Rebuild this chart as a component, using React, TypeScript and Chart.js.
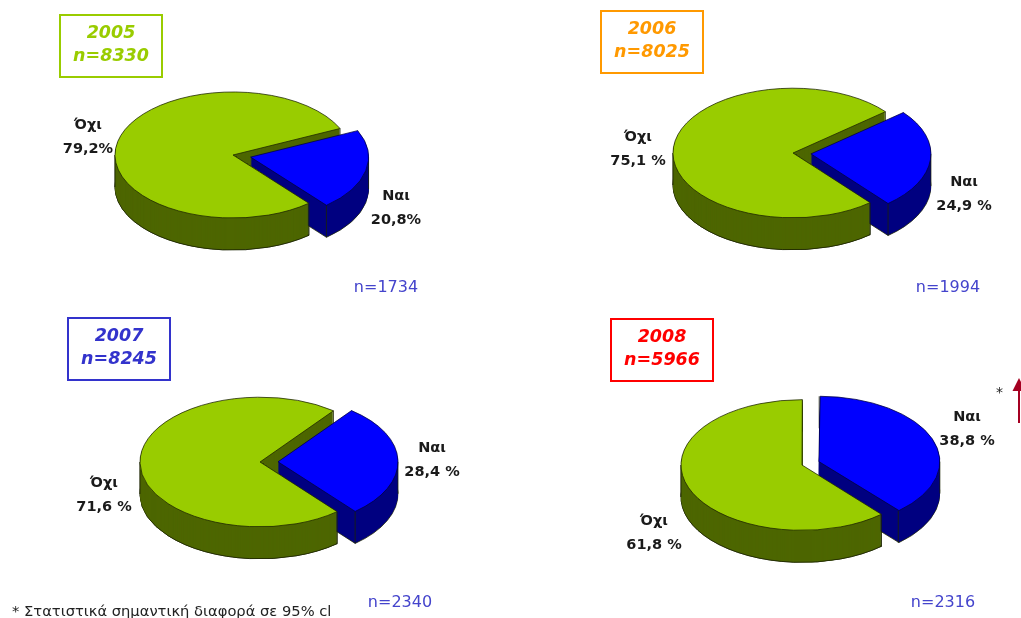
import React, { useEffect, useRef } from "react";
import { Chart, registerables } from "chart.js";

Chart.register(...registerables);

// Survey results per year
const years = ["2005", "2006", "2007", "2008"];
const sampleTotals = ["n=8330", "n=8025", "n=8245", "n=5966"];
const yesCounts = ["n=1734", "n=1994", "n=2340", "n=2316"];
const noValues = [79.2, 75.1, 71.6, 61.8];
const yesValues = [20.8, 24.9, 28.4, 38.8];
const noLabels = ["79,2%", "75,1 %", "71,6 %", "61,8 %"];
const yesLabels = ["20,8%", "24,9 %", "28,4 %", "38,8 %"];
const categories = ["Όχι", "Ναι"];
const footnote = "* Στατιστικά σημαντική διαφορά σε 95% cl";

// Page layout for each pie panel
const CANVAS = 300;
const centres = [[233, 155], [793, 153], [260, 462], [802, 465]];
const radii = [118, 120, 120, 121];
const rotations = [140, 140, 140, 139];
const tilt = [0.534, 0.54, 0.54, 0.54];
const DEPTH = 32;
const EXPLODE = 18;
const titleColours = ["#99CC00", "#FF9900", "#3333CC", "#FF0000"];
const titleBoxes = [[59, 14], [600, 10], [67, 317], [610, 318]];
const noPos = [[88, 124], [638, 136], [104, 482], [654, 520]];
const yesPos = [[396, 195], [964, 181], [432, 447], [967, 416]];
const countPos = [[386, 287], [948, 287], [400, 602], [943, 602]];

const GREEN = "#99CC00";
const GREEN_SIDE = "#4D6600";
const BLUE = "#0000FF";
const BLUE_SIDE = "#000080";
const EDGE = "#1c2400";
const COUNT_COLOUR = "#4444CC";
const FONT = '"DejaVu Sans", Verdana, sans-serif';

const sideColours = [GREEN_SIDE, BLUE_SIDE];

// Stacks copies of one arc to build its wall, then adds the vertical edges.
function drawWall(ctx: any, arc: any, colour: string, k: number) {
  const original = arc.options;
  for (let d = DEPTH; d >= 1; d -= 1) {
    const last = d === DEPTH;
    arc.options = {
      ...original,
      backgroundColor: colour,
      borderColor: last ? EDGE : colour,
      borderWidth: last ? 1 : 0,
    };
    ctx.save();
    ctx.translate(0, d / k);
    arc.draw(ctx);
    ctx.restore();
  }
  arc.options = original;

  const off = (original.offset || 0) / 4;
  const mid = (arc.startAngle + arc.endAngle) / 2;
  const ox = arc.x + Math.cos(mid) * off;
  const oy = arc.y + Math.sin(mid) * off;
  const R = arc.outerRadius + off * (1 - Math.sin(Math.min(Math.PI, arc.circumference)));
  const angles = [arc.startAngle, arc.endAngle];
  for (const a of [0, Math.PI, 2 * Math.PI, 3 * Math.PI]) {
    if (a > arc.startAngle && a < arc.endAngle) angles.push(a);
  }
  ctx.strokeStyle = EDGE;
  ctx.lineWidth = 1;
  for (const a of angles) {
    const px = ox + Math.cos(a) * R;
    const py = oy + Math.sin(a) * R;
    ctx.beginPath();
    ctx.moveTo(px, py);
    ctx.lineTo(px, py + DEPTH / k);
    ctx.stroke();
  }
}

// Extrudes the arcs downward and squashes the whole pie into an ellipse.
const tiltedPie = (k: number) => ({
  id: "tiltedPie",
  afterDatasetsUpdate(chart: any) {
    // ArcElement enlarges exploded arcs while drawing; keep the radius constant.
    for (const arc of chart.getDatasetMeta(0).data as any[]) {
      const off = (arc.options.offset || 0) / 4;
      const fix = 1 - Math.sin(Math.min(Math.PI, arc.circumference));
      arc.outerRadius -= off * fix;
    }
  },
  beforeDatasetsDraw(chart: any) {
    const ctx = chart.ctx;
    const [large, small] = chart.getDatasetMeta(0).data as any[];
    const { x: cx, y: cy } = large;
    ctx.save();
    ctx.translate(cx, cy);
    ctx.scale(1, k);
    ctx.translate(-cx, -cy);

    drawWall(ctx, large, sideColours[0], k);
    drawWall(ctx, small, sideColours[1], k);

    // The front wall of the large slice sits before the exploded slice: repaint it
    // on the far side of the radial edge that faces the gap.
    const a = large.startAngle;
    const far = CANVAS * 4;
    ctx.save();
    ctx.beginPath();
    ctx.moveTo(cx + Math.cos(a) * far, cy + Math.sin(a) * far);
    ctx.lineTo(
      cx + Math.cos(a + Math.PI / 2) * far + Math.cos(a) * far,
      cy + Math.sin(a + Math.PI / 2) * far + Math.sin(a) * far,
    );
    ctx.lineTo(
      cx + Math.cos(a + Math.PI / 2) * far - Math.cos(a) * far,
      cy + Math.sin(a + Math.PI / 2) * far - Math.sin(a) * far,
    );
    ctx.lineTo(cx - Math.cos(a) * far, cy - Math.sin(a) * far);
    ctx.closePath();
    ctx.clip();
    drawWall(ctx, large, sideColours[0], k);
    ctx.restore();
  },
  afterDatasetsDraw(chart: any) {
    chart.ctx.restore();
  },
});

function Pie({ index }: { index: number }) {
  const ref = useRef<HTMLCanvasElement>(null);
  useEffect(() => {
    const chart = new Chart(ref.current as HTMLCanvasElement, {
      type: "pie",
      data: {
        labels: categories,
        datasets: [
          {
            data: [noValues[index], yesValues[index]],
            backgroundColor: [GREEN, BLUE],
            borderColor: [EDGE, "#000040"],
            borderWidth: 1,
            offset: [0, EXPLODE * 4],
            clip: false,
          } as any,
        ],
      },
      options: {
        responsive: false,
        animation: false,
        events: [],
        rotation: rotations[index],
        radius: radii[index],
        layout: { padding: 0 },
        plugins: { legend: { display: false }, tooltip: { enabled: false } },
      } as any,
      plugins: [tiltedPie(tilt[index])],
    });
    return () => chart.destroy();
  }, [index]);
  const [cx, cy] = centres[index];
  return (
    <canvas
      ref={ref}
      width={CANVAS}
      height={CANVAS}
      style={{
        position: "absolute",
        left: cx - CANVAS / 2,
        top: cy - CANVAS / 2,
        width: CANVAS,
        height: CANVAS,
      }}
    />
  );
}

function Label({ pos, lines }: { pos: number[]; lines: string[] }) {
  return (
    <div
      style={{
        position: "absolute",
        left: pos[0] - 60,
        top: pos[1] - 12,
        width: 120,
        textAlign: "center",
        fontFamily: FONT,
        fontWeight: 700,
        fontSize: 14.5,
        lineHeight: "24px",
        color: "#1a1a1a",
      }}
    >
      {lines.map((t) => (
        <div key={t}>{t}</div>
      ))}
    </div>
  );
}

export default function App() {
  return (
    <div
      style={{
        position: "absolute",
        left: 0,
        top: 0,
        width: 1021,
        height: 618,
        overflow: "hidden",
        background: "#fff",
      }}
    >
      {years.map((year, i) => (
        <React.Fragment key={year}>
          <Pie index={i} />
          <div
            style={{
              position: "absolute",
              left: titleBoxes[i][0],
              top: titleBoxes[i][1],
              width: 100,
              height: 55,
              border: `2px solid ${titleColours[i]}`,
              color: titleColours[i],
              fontFamily: FONT,
              fontWeight: 700,
              fontStyle: "italic",
              fontSize: 17.5,
              lineHeight: "23px",
              textAlign: "center",
              paddingTop: 5,
              boxSizing: "content-box",
            }}
          >
            <div>{year}</div>
            <div>{sampleTotals[i]}</div>
          </div>
          <Label pos={noPos[i]} lines={[categories[0], noLabels[i]]} />
          <Label pos={yesPos[i]} lines={[categories[1], yesLabels[i]]} />
          <div
            style={{
              position: "absolute",
              left: countPos[i][0] - 60,
              top: countPos[i][1] - 12,
              width: 120,
              textAlign: "center",
              fontFamily: FONT,
              fontSize: 16,
              lineHeight: "24px",
              color: COUNT_COLOUR,
            }}
          >
            {yesCounts[i]}
          </div>
        </React.Fragment>
      ))}
      <div
        style={{
          position: "absolute",
          left: 12,
          top: 602,
          whiteSpace: "nowrap",
          fontFamily: FONT,
          fontSize: 14.7,
          lineHeight: "18px",
          color: "#222",
        }}
      >
        {footnote}
      </div>
      <div
        style={{
          position: "absolute",
          left: 996,
          top: 383,
          fontFamily: FONT,
          fontSize: 14,
          lineHeight: "18px",
          color: "#222",
        }}
      >
        *
      </div>
      <svg
        width={30}
        height={60}
        style={{ position: "absolute", left: 1000, top: 370 }}
      >
        <path d="M19 8 L12.5 21 L25.5 21 Z" fill="#A50021" />
        <rect x={18} y={20} width={2} height={33} fill="#A50021" />
      </svg>
    </div>
  );
}
